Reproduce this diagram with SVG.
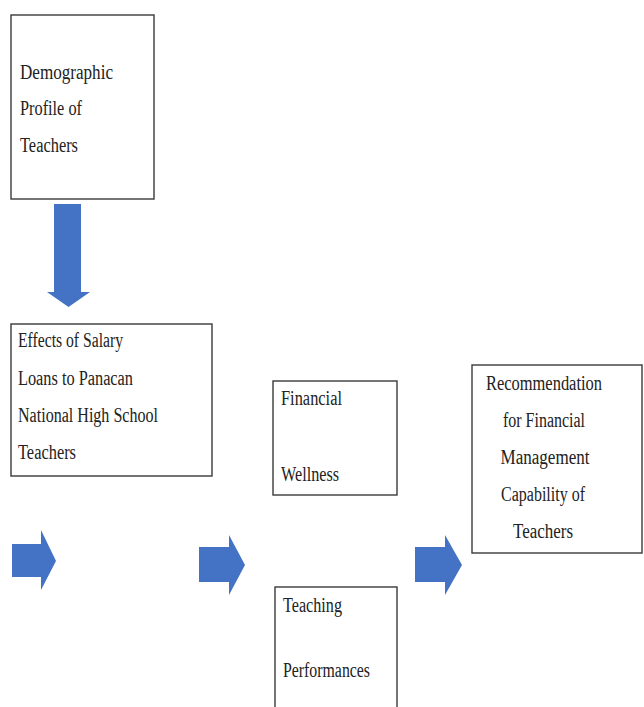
<svg xmlns="http://www.w3.org/2000/svg" width="644" height="707" viewBox="0 0 644 707">
<style>
.box{fill:#fff;stroke:#3a3a3a;stroke-width:1.4}
.t{font-family:"Liberation Serif","Times New Roman",serif;font-size:20px;fill:#222}
.c{text-anchor:middle}
.arr{fill:#4472C4}
</style>
<rect width="644" height="707" fill="#fff"/>
<g id="demographic">
<rect class="box" x="11" y="15" width="143" height="184"/>
<text class="t" x="20" y="79" textLength="93" lengthAdjust="spacingAndGlyphs">Demographic</text>
<text class="t" x="20" y="115" textLength="62" lengthAdjust="spacingAndGlyphs">Profile of</text>
<text class="t" x="20" y="152" textLength="58" lengthAdjust="spacingAndGlyphs">Teachers</text>
</g>
<g id="effects">
<rect class="box" x="11" y="324" width="201" height="152"/>
<text class="t" x="18" y="347" textLength="105" lengthAdjust="spacingAndGlyphs">Effects of Salary</text>
<text class="t" x="18" y="385" textLength="115" lengthAdjust="spacingAndGlyphs">Loans to Panacan</text>
<text class="t" x="18" y="422" textLength="140" lengthAdjust="spacingAndGlyphs">National High School</text>
<text class="t" x="18" y="459" textLength="58" lengthAdjust="spacingAndGlyphs">Teachers</text>
</g>
<g id="financial">
<rect class="box" x="273" y="381" width="124" height="114"/>
<text class="t" x="281" y="405" textLength="61" lengthAdjust="spacingAndGlyphs">Financial</text>
<text class="t" x="281" y="481" textLength="58" lengthAdjust="spacingAndGlyphs">Wellness</text>
</g>
<g id="teaching">
<rect class="box" x="275" y="587" width="122" height="130"/>
<text class="t" x="283" y="612" textLength="59" lengthAdjust="spacingAndGlyphs">Teaching</text>
<text class="t" x="283" y="677" textLength="87" lengthAdjust="spacingAndGlyphs">Performances</text>
</g>
<g id="recommendation">
<rect class="box" x="472" y="365" width="170" height="188"/>
<text class="t c" x="544" y="390" textLength="116" lengthAdjust="spacingAndGlyphs">Recommendation</text>
<text class="t c" x="544" y="427" textLength="82" lengthAdjust="spacingAndGlyphs">for Financial</text>
<text class="t c" x="545" y="464" textLength="89" lengthAdjust="spacingAndGlyphs">Management</text>
<text class="t c" x="543" y="501" textLength="84" lengthAdjust="spacingAndGlyphs">Capability of</text>
<text class="t c" x="543" y="538" textLength="60" lengthAdjust="spacingAndGlyphs">Teachers</text>
</g>
<g id="connectors">
<polygon class="arr" points="54,204 81,204 81,292 90,292 68.5,307 47,292 54,292"/>
<polygon class="arr" points="12,544 41,544 41,530 56,561 41,590 41,577 12,577"/>
<polygon class="arr" points="199,547 229,547 229,535 245,565 229,595 229,582 199,582"/>
<polygon class="arr" points="415,547 445,547 445,535 462,565 445,595 445,582 415,582"/>
</g>
</svg>
